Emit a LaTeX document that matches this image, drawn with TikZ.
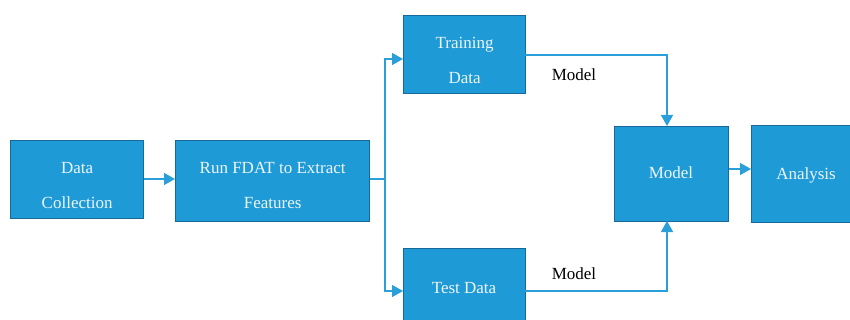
\documentclass[tikz,border=0pt]{standalone}
\usepackage{fontspec}
\setmainfont{Liberation Serif}
\newfontfamily\stagefont{Liberation Serif}
\usetikzlibrary{arrows.meta}
\definecolor{boxfill}{HTML}{1E9BD7}
\definecolor{boxedge}{HTML}{17699C}
\definecolor{flow}{HTML}{2A9FDA}
\definecolor{boxtext}{HTML}{EEF5FB}
\tikzset{
  stage/.style={draw=boxedge, fill=boxfill, line width=1.3pt, inner sep=0pt, anchor=north west},
  caption/.style={text=boxtext, font=\stagefont\fontsize{17}{35}\selectfont, align=center, inner sep=0pt},
  flowline/.style={draw=flow, line width=1.4pt},
  flowarrow/.style={flowline, -{Triangle[length=11pt,width=12pt]}},
  tag/.style={font=\stagefont\fontsize{17}{20}\selectfont, text=black, inner sep=0pt}
}
\begin{document}
\begin{tikzpicture}[x=1pt,y=-1pt]
  \useasboundingbox (0,0) rectangle (850,320);
  \clip (0,0) rectangle (850,320);

  % processing stages
  \node[stage, minimum width=133pt, minimum height=78pt] (dc) at (10,140) {};
  \node[stage, minimum width=194pt, minimum height=81pt] (fdat) at (175,140) {};
  \node[stage, minimum width=122pt, minimum height=78pt] (train) at (403,15) {};
  \node[stage, minimum width=122pt, minimum height=80pt] (test) at (403,248) {};
  \node[stage, minimum width=114pt, minimum height=95pt] (model) at (614,126) {};
  \node[stage, minimum width=110pt, minimum height=97pt] (anal) at (751,125) {};

  % stage captions
  \node[caption] (dcT) at ([yshift=-6pt]dc.center) {Data\\Collection};
  \node[caption] (fdatT) at ([yshift=-4pt]fdat.center) {Run FDAT to Extract\\Features};
  \node[caption] (trainT) at ([yshift=-6pt]train.center) {Training\\Data};
  \node[caption] (testT) at (464,288) {Test Data};
  \node[caption] (modelT) at (671,173) {Model};
  \node[caption] (analT) at (806,175) {Analysis};

  % routing points
  \coordinate (split) at (385,179);
  \coordinate (trainIn) at (403,59);
  \coordinate (testIn) at (403,291);
  \coordinate (trainOut) at (525,55);
  \coordinate (testOut) at (525,291);
  \coordinate (modelTop) at (667,126);
  \coordinate (modelBot) at (667,221);

  % connectors
  \draw[flowarrow] (dc.east |- split) -- (fdat.west |- split);
  \draw[flowline] (fdat.east |- split) -- (split);
  \draw[flowarrow] (split) |- (trainIn);
  \draw[flowarrow] (split) |- (testIn);
  \draw[flowarrow] (trainOut) -| (modelTop);
  \draw[flowarrow] (testOut) -| (modelBot);
  \draw[flowarrow] (model.east |- 0,169) -- (anal.west |- 0,169);

  % edge labels
  \node[tag] (lbl1) at (574,75) {Model};
  \node[tag] (lbl2) at (574,274) {Model};
\end{tikzpicture}
\end{document}
